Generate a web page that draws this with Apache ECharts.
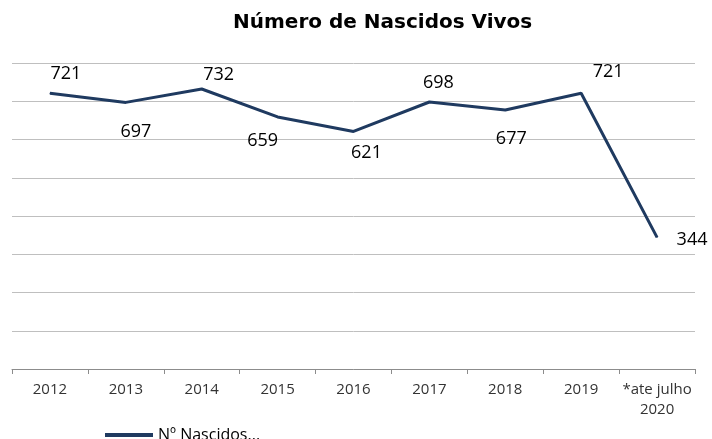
<!DOCTYPE html>
<html>
<head>
<meta charset="utf-8">
<script src="https://cdn.jsdelivr.net/npm/echarts@6/dist/echarts.min.js"></script>
<style>
  html, body { margin: 0; padding: 0; background: #fff; }
  #chart { width: 712px; height: 439px; }
</style>
</head>
<body>
<div id="chart"></div>
<script>
// dados do gráfico
const years = ['2012', '2013', '2014', '2015', '2016', '2017', '2018', '2019', '*ate julho\n2020'];
const nascidos = [721, 697, 732, 659, 621, 698, 677, 721, 344];
const yTicks = [0, 100, 200, 300, 400, 500, 600, 700, 800];

// deslocamento de cada rótulo em relação ao ponto (colocados à mão no original)
const labelOffsets = [[16, -19], [10, 29], [17, -14], [-15, 24], [13, 21], [9, -19], [6, 29], [27, -21], [35, 2]];

const chart = echarts.init(document.getElementById('chart'));
const font = 'Open Sans, DejaVu Sans, sans-serif';

const option = {
  animation: false,
  title: {
    text: 'Número de Nascidos Vivos',
    left: 228,
    top: 8,
    textStyle: { fontFamily: 'DejaVu Sans, sans-serif', fontSize: 20, fontWeight: 'bold', color: '#000' }
  },
  legend: {
    left: 100,
    top: 422,
    itemWidth: 48,
    itemHeight: 4,
    icon: 'rect',
    data: ['Nº Nascidos...'],
    textStyle: { fontFamily: font, fontSize: 16, color: '#000' }
  },
  grid: { left: 12, right: 17, top: 63, bottom: 70 },
  xAxis: {
    type: 'category',
    data: years,
    boundaryGap: true,
    axisLine: { lineStyle: { color: '#8c8c8c' } },
    axisTick: { show: true, length: 5, lineStyle: { color: '#8c8c8c' } },
    axisLabel: { fontFamily: font, fontSize: 15, color: '#333', margin: 11, lineHeight: 20, interval: 0 }
  },
  yAxis: {
    type: 'value',
    min: yTicks[0],
    max: yTicks[yTicks.length - 1],
    interval: 100,
    axisLabel: { show: false },
    axisLine: { show: false },
    axisTick: { show: false },
    splitLine: { lineStyle: { color: '#bfbfbf', width: 1 } }
  },
  series: [{
    name: 'Nº Nascidos...',
    type: 'line',
    data: nascidos.map((v, i) => ({
      value: v,
      label: { position: 'inside', offset: labelOffsets[i] }
    })),
    symbol: 'circle',
    symbolSize: 1,
    showSymbol: true,
    color: '#1f3a60',
    lineStyle: { color: '#1f3a60', width: 3 },
    label: { show: true, fontFamily: font, fontSize: 18, color: '#000' }
  }]
};

chart.setOption(option);
</script>
</body>
</html>
